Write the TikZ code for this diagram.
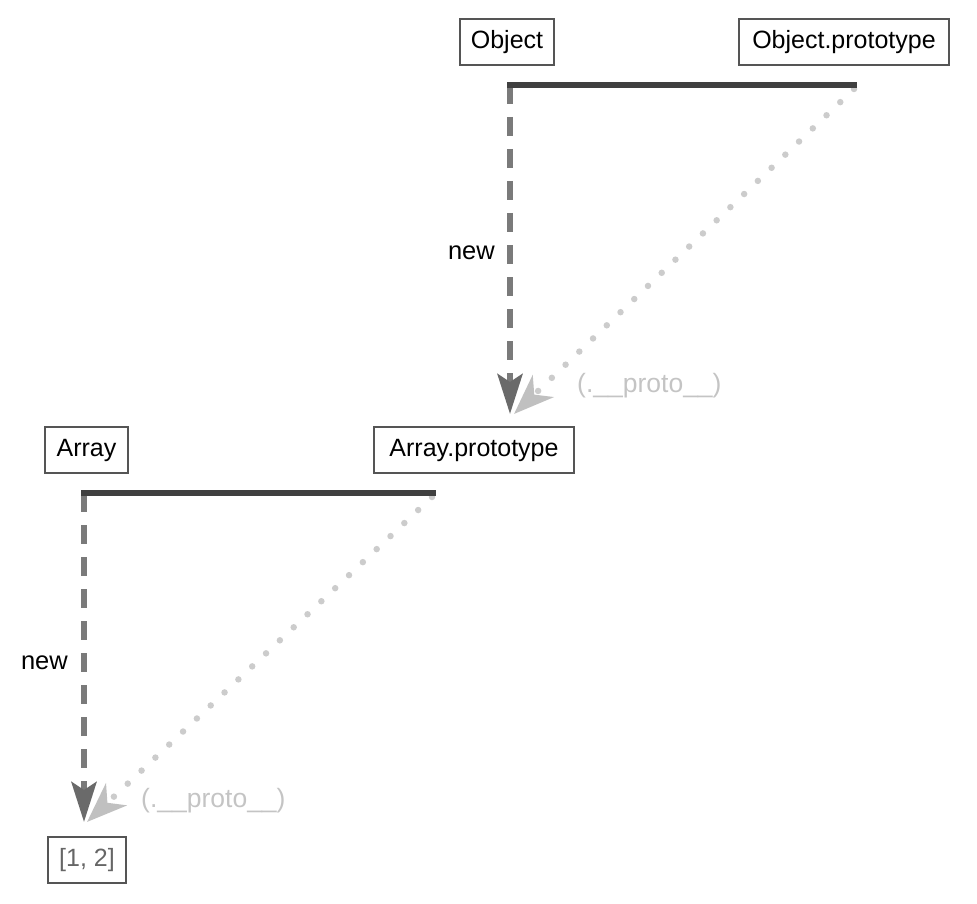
\documentclass[tikz,border=0pt]{standalone}
\usepackage{fontspec}
\setmainfont{Liberation Sans}
\usetikzlibrary{arrows.meta}
\definecolor{boxline}{HTML}{555555}
\definecolor{barcol}{HTML}{404040}
\definecolor{dashcol}{HTML}{7A7A7A}
\definecolor{dashtip}{HTML}{6A6A6A}
\definecolor{dotcol}{HTML}{CCCCCC}
\definecolor{dottip}{HTML}{C0C0C0}
\definecolor{protocol}{HTML}{C4C4C4}
\definecolor{valcol}{HTML}{666666}
\tikzset{
  objbox/.style={draw=boxline, line width=1.3pt, inner sep=0pt, minimum height=46pt,
    font=\fontsize{25}{29}\selectfont, text=black},
  bar/.style={draw=barcol, line width=6pt},
  newarrow/.style={draw=dashcol, line width=6pt, dash pattern=on 19pt off 13pt,
    -{Stealth[length=40pt,width=25pt,inset=8pt,color=dashtip]}},
  protoarrow/.style={draw=dotcol, line width=6.5pt, line cap=round, dash pattern=on 0pt off 19pt,
    -{Stealth[length=40pt,width=30pt,inset=12pt,color=dottip]}},
  newlabel/.style={font=\fontsize{25.5}{29}\selectfont, text=black, inner sep=0pt},
  protolabel/.style={font=\fontsize{26.5}{30}\selectfont, text=protocol, inner sep=0pt},
}
\begin{document}
\begin{tikzpicture}[x=1pt,y=-1pt]
\useasboundingbox (0,0) rectangle (977,904);
% boxes
\node[objbox, minimum width=94pt] (object) at (507,42) {Object};
\node[objbox, minimum width=210pt] (objproto) at (844,42) {Object.prototype};
\node[objbox, minimum width=83pt] (array) at (86.5,450) {Array};
\node[objbox, minimum width=200pt] (arrproto) at (474,450) {Array.prototype};
\node[objbox, minimum width=78pt, text=valcol] (value) at (87,860) {[1, 2]};
% coordinates
\coordinate (b1s) at (507,85);
\coordinate (b1e) at (857,85);
\coordinate (n1s) at (510,85);
\coordinate (t1) at (510,414);
\coordinate (p1s) at (854,89);
\coordinate (pt1) at (514,414);
\coordinate (b2s) at (81,493);
\coordinate (b2e) at (436,493);
\coordinate (n2s) at (84,493);
\coordinate (t2) at (84,822);
\coordinate (p2s) at (432,497);
\coordinate (pt2) at (87,822);
% top part
\draw[protoarrow] (p1s) -- (pt1);
\draw[newarrow] (n1s) -- (t1);
\draw[bar] (b1s) -- (b1e);
\node[newlabel, anchor=east] (new1) at (495,253) {new};
\node[protolabel, anchor=west] (proto1) at (577,386) {(.\_\_proto\_\_)};
% bottom part
\draw[protoarrow] (p2s) -- (pt2);
\draw[newarrow] (n2s) -- (t2);
\draw[bar] (b2s) -- (b2e);
\node[newlabel, anchor=east] (new2) at (68,663) {new};
\node[protolabel, anchor=west] (proto2) at (141,801) {(.\_\_proto\_\_)};
\end{tikzpicture}
\end{document}
